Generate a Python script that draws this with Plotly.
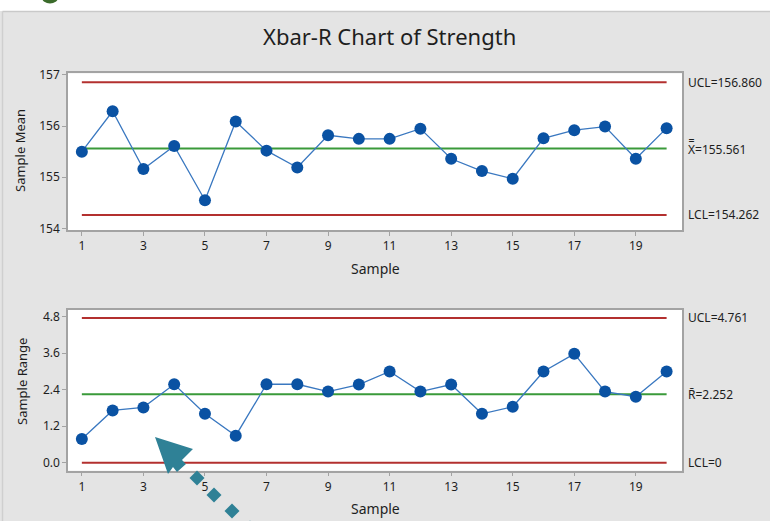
import plotly.graph_objects as go

W, H = 770, 521

samples = list(range(1, 21))
sample_mean = [155.50, 156.29, 155.16, 155.61, 154.55, 156.09, 155.52, 155.19, 155.82, 155.75,
               155.75, 155.95, 155.36, 155.12, 154.97, 155.76, 155.92, 155.99, 155.36, 155.96]
sample_range = [0.78, 1.72, 1.82, 2.58, 1.61, 0.89, 2.58, 2.58, 2.34, 2.57,
                3.00, 2.34, 2.57, 1.61, 1.84, 3.00, 3.58, 2.34, 2.17, 3.00]

xbar_ucl, xbar_cl, xbar_lcl = 156.860, 155.561, 154.262
r_ucl, r_cl, r_lcl = 4.761, 2.252, 0.0

x_ticks = [1, 3, 5, 7, 9, 11, 13, 15, 17, 19]
mean_ticks = [154, 155, 156, 157]
range_ticks = [0.0, 1.2, 2.4, 3.6, 4.8]
range_tick_labels = ["0.0", "1.2", "2.4", "3.6", "4.8"]

FONT = "Noto Sans"
TXT = "#1e1e1e"
RED = "#b3302f"
GREEN = "#3a9a3a"
LINE_BLUE = "#3a78c0"
MARK_BLUE = "#0a52a3"
FRAME = "#a3a3a3"


def px(x):
    return x / W


def py(y):
    return 1 - y / H


fig = go.Figure()

# Xbar chart
for val, col in [(xbar_ucl, RED), (xbar_lcl, RED), (xbar_cl, GREEN)]:
    fig.add_trace(go.Scatter(x=[samples[0], samples[-1]], y=[val, val], mode="lines",
                             line=dict(color=col, width=2), xaxis="x", yaxis="y",
                             hoverinfo="skip"))
fig.add_trace(go.Scatter(x=samples, y=sample_mean, mode="lines+markers",
                         line=dict(color=LINE_BLUE, width=1.3),
                         marker=dict(color=MARK_BLUE, size=12), xaxis="x", yaxis="y"))

# R chart
for val, col in [(r_ucl, RED), (r_lcl, RED), (r_cl, GREEN)]:
    fig.add_trace(go.Scatter(x=[samples[0], samples[-1]], y=[val, val], mode="lines",
                             line=dict(color=col, width=2), xaxis="x2", yaxis="y2",
                             hoverinfo="skip"))
fig.add_trace(go.Scatter(x=samples, y=sample_range, mode="lines+markers",
                         line=dict(color=LINE_BLUE, width=1.3),
                         marker=dict(color=MARK_BLUE, size=12), xaxis="x2", yaxis="y2"))

axis_common = dict(showline=True, mirror=True, linecolor=FRAME, linewidth=1.5,
                   ticks="outside", ticklen=4, tickcolor=FRAME, showgrid=False,
                   zeroline=False, automargin=False,
                   tickfont=dict(family=FONT, size=12, color=TXT))

xdom = [px(68), px(682)]
fig.update_layout(
    width=W, height=H,
    margin=dict(l=0, r=0, t=0, b=0),
    paper_bgcolor="#e4e4e4",
    plot_bgcolor="white",
    showlegend=False,
    xaxis=dict(domain=xdom, range=[0.55, 20.5], tickvals=x_ticks, anchor="y", **axis_common),
    yaxis=dict(domain=[py(230), py(73.3)], range=[153.967, 157.033], tickvals=mean_ticks,
               anchor="x", **axis_common),
    xaxis2=dict(domain=xdom, range=[0.55, 20.5], tickvals=x_ticks, anchor="y2", **axis_common),
    yaxis2=dict(domain=[py(470.7), py(310)], range=[-0.26, 5.02], tickvals=range_ticks,
                ticktext=range_tick_labels, anchor="x2", **axis_common),
)


def label(text, x, y, size, angle=0):
    return dict(text=text, x=px(x), y=py(y), xref="paper", yref="paper", showarrow=False,
                xanchor="center", yanchor="middle", textangle=angle,
                font=dict(family=FONT, size=size, color=TXT))


annotations = [
    label("Xbar-R Chart of Strength", 390, 36, 22),
    label("Sample", 375, 268, 14),
    label("Sample", 375, 508, 14),
    label("Sample Mean", 20, 151, 13, -90),
    label("Sample Range", 22, 382, 13, -90),
]
right_labels = [
    ("UCL=%.3f" % xbar_ucl, xbar_ucl, "y"),
    ("X\u033F=%.3f" % xbar_cl, xbar_cl, "y"),
    ("LCL=%.3f" % xbar_lcl, xbar_lcl, "y"),
    ("UCL=%.3f" % r_ucl, r_ucl, "y2"),
    ("R\u0304=%.3f" % r_cl, r_cl, "y2"),
    ("LCL=0", r_lcl, "y2"),
]
for txt, val, yr in right_labels:
    annotations.append(dict(text=txt, x=px(686), y=val, xref="paper", yref=yr,
                            xanchor="left", yanchor="middle", showarrow=False,
                            font=dict(family=FONT, size=12, color=TXT)))
fig.update_layout(annotations=annotations)

shapes = [
    # white strip at top of image
    dict(type="rect", xref="paper", yref="paper", x0=0, x1=1, y0=py(11), y1=1.01,
         fillcolor="white", line=dict(width=0), layer="below"),
    dict(type="line", xref="paper", yref="paper", x0=px(2.5), x1=1, y0=py(11.5), y1=py(11.5),
         line=dict(color="#c9c9c9", width=1.5)),
    dict(type="line", xref="paper", yref="paper", x0=px(2.5), x1=px(2.5), y0=0, y1=py(11.5),
         line=dict(color="#cfcfcf", width=1.5)),
    # partially visible green glyph at the top
    dict(type="circle", xref="paper", yref="paper", x0=px(42), x1=px(58), y0=py(3.5), y1=py(-8),
         fillcolor="#3b6b2b", line=dict(width=0)),
]


def path_from(points):
    return "M " + " L ".join("%f,%f" % (px(x), py(y)) for x, y in points) + " Z"


ARROW = "#2f8196"
shapes.append(dict(type="path", xref="paper", yref="paper",
                   path=path_from([(155, 437), (193, 449), (182, 460), (186, 464),
                                   (177, 472), (173, 467), (168, 474)]),
                   fillcolor=ARROW, line=dict(width=0)))
for cx, cy in [(197, 478), (214, 495), (232, 511), (250, 528)]:
    d = 7.5
    shapes.append(dict(type="path", xref="paper", yref="paper",
                       path=path_from([(cx, cy - d), (cx + d, cy), (cx, cy + d), (cx - d, cy)]),
                       fillcolor=ARROW, line=dict(width=0)))
fig.update_layout(shapes=shapes)

fig.write_html("out.html", config={"displayModeBar": False},
               post_script="document.body.style.margin='0';document.body.style.overflow='hidden';")
